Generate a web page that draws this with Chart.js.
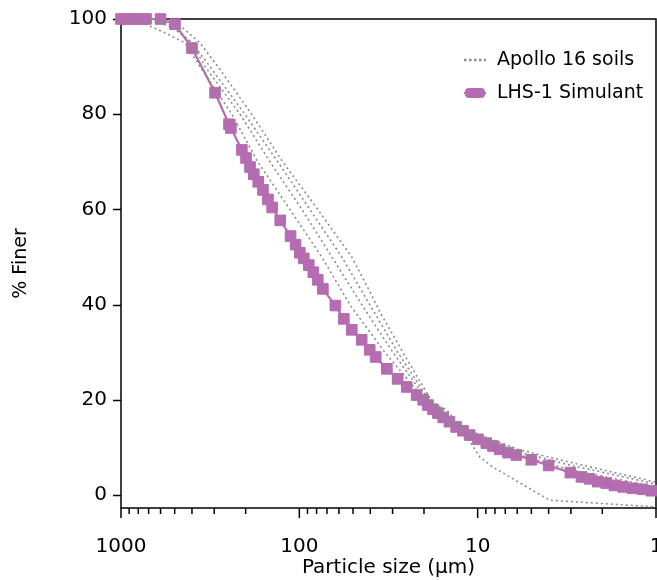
<!DOCTYPE html>
<html>
<head>
<meta charset="utf-8">
<script src="https://cdn.jsdelivr.net/npm/chart.js@4.4.0/dist/chart.umd.min.js"></script>
<style>
  html, body { margin: 0; padding: 0; background: #fff; }
  #wrap { width: 657px; height: 580px; }
</style>
</head>
<body>
<div id="wrap"><canvas id="psd"></canvas></div>
<script>
// particle size (µm) and % finer
const lhsSize = [1000, 926, 857, 793, 724, 600, 498, 400, 297, 248, 242, 210, 199, 189, 180, 170, 160, 150, 142,
  128, 112, 105, 99.4, 94.4, 88.5, 83.5, 78.8, 73.8, 62.8, 56.3, 50.8, 44.7, 40.3, 37.3, 32.3, 28.1, 25.0,
  22.0, 20.2, 19.0, 17.8, 16.7, 15.6, 14.4, 13.2, 12.1, 11.1, 9.96, 8.94, 8.21, 7.53, 6.77, 6.07, 5.00, 4.00, 3.02,
  2.62, 2.36, 2.12, 1.90, 1.71, 1.53, 1.35, 1.19, 1.06];
const lhsFiner = [100, 100, 100, 100, 100, 100, 98.9, 93.9, 84.5, 77.9, 77.1, 72.5, 70.8, 68.9, 67.4, 65.8, 64.1, 62.1, 60.4,
  57.7, 54.4, 52.6, 50.9, 49.7, 48.3, 46.8, 45.2, 43.3, 39.8, 37.0, 34.7, 32.6, 30.5, 29.0, 26.5, 24.4, 22.7,
  21.0, 20.0, 18.9, 18.0, 17.2, 16.3, 15.4, 14.3, 13.5, 12.6, 11.7, 10.9, 10.3, 9.6, 8.9, 8.4, 7.4, 6.2, 4.7,
  3.8, 3.4, 2.8, 2.5, 2.0, 1.7, 1.4, 1.2, 0.9];

const apolloASize = [1000, 783, 567, 438, 361, 239, 171, 113, 74.8, 52.1, 33.2, 19.8, 14.9, 11.5, 9.74, 8.24, 3.95, 1];
const apolloAFiner = [100, 99.4, 97.1, 95, 90, 80, 70, 60, 50, 40, 30, 20, 17.9, 12.2, 8.0, 5.9, -1.1, -2.5];
const apolloBSize = [688, 500, 400, 338, 215, 146, 96.8, 65.7, 44.7, 29.9, 19.3, 14.4, 10.1, 5.82, 3.05, 1];
const apolloBFiner = [100, 98, 95, 90, 80, 70, 60, 50, 40, 30, 20, 15, 11.6, 8.4, 5.3, 1.7];
const apolloCSize = [645, 552, 400, 317, 202, 132, 87.3, 57.8, 40.3, 28.1, 18.8, 14.4, 9.74, 5.82, 3.05, 1];
const apolloCFiner = [100, 99.2, 95, 90, 80, 70, 60, 50, 40, 30, 20, 15.5, 12, 9.0, 6.3, 2.3];
const apolloDSize = [567, 486, 361, 286, 185, 124, 78.8, 50.8, 39.3, 35.4, 26.3, 18.3, 14.4, 9.74, 5.82, 3.05, 1];
const apolloDFiner = [100, 99.2, 95, 90, 80, 70, 60, 50, 42, 38.5, 30, 20, 16, 12.6, 9.5, 6.9, 2.7];

const xLabels = [1, 10, 100, 1000];
const yTicks = [0, 20, 40, 60, 80, 100];

const purple = '#b56cb1';
const grey = '#8c8c8c';
const font = 'DejaVu Sans';

function pts(xs, ys) { return xs.map((x, i) => ({ x: x, y: ys[i] })); }

function apollo(xs, ys) {
  return {
    label: 'Apollo 16 soils',
    data: pts(xs, ys),
    showLine: true,
    borderColor: grey,
    borderWidth: 1.6,
    borderDash: [2, 3],
    pointRadius: 0,
    tension: 0
  };
}

// frame, tick marks and legend
const decor = {
  id: 'decor',
  beforeDatasetsDraw(chart) {
    const { ctx, chartArea: a, scales: { x, y } } = chart;
    ctx.save();
    ctx.strokeStyle = '#000';
    ctx.lineWidth = 1.5;
    ctx.strokeRect(a.left, a.top, a.right - a.left, a.bottom - a.top);
    ctx.beginPath();
    yTicks.forEach(v => {
      const py = Math.round(y.getPixelForValue(v)) + 0.5;
      ctx.moveTo(a.left - 8, py); ctx.lineTo(a.left, py);
    });
    [1, 10, 100].forEach(d => {
      for (let k = 1; k <= 9; k++) {
        const px = x.getPixelForValue(d * k);
        const len = k === 1 ? 10 : 6;
        ctx.moveTo(px, a.bottom); ctx.lineTo(px, a.bottom + len);
      }
    });
    const p1000 = x.getPixelForValue(1000);
    ctx.moveTo(p1000, a.bottom); ctx.lineTo(p1000, a.bottom + 10);
    ctx.stroke();

    // legend
    ctx.strokeStyle = grey;
    ctx.lineWidth = 2.5;
    ctx.setLineDash([2.5, 2.5]);
    ctx.beginPath(); ctx.moveTo(464, 60); ctx.lineTo(486, 60); ctx.stroke();
    ctx.setLineDash([]);
    ctx.strokeStyle = purple;
    ctx.lineWidth = 2;
    ctx.beginPath(); ctx.moveTo(464, 93); ctx.lineTo(486, 93); ctx.stroke();
    ctx.fillStyle = purple;
    ctx.beginPath();
    ctx.roundRect(465, 88, 20, 10, 4);
    ctx.fill();
    ctx.fillStyle = '#000';
    ctx.font = '19px "' + font + '"';
    ctx.textBaseline = 'middle';
    ctx.fillText('Apollo 16 soils', 497, 60);
    ctx.fillText('LHS-1 Simulant', 497, 93);
    ctx.restore();
  }
};

const ctx = document.getElementById('psd').getContext('2d');
new Chart(ctx, {
  type: 'scatter',
  data: {
    datasets: [
      apollo(apolloASize, apolloAFiner),
      apollo(apolloBSize, apolloBFiner),
      apollo(apolloCSize, apolloCFiner),
      apollo(apolloDSize, apolloDFiner),
      {
        label: 'LHS-1 Simulant',
        data: pts(lhsSize, lhsFiner),
        showLine: true,
        borderColor: purple,
        backgroundColor: purple,
        borderWidth: 2.2,
        pointStyle: 'rect',
        pointRadius: 7.5,
        pointBorderWidth: 1,
        pointBorderColor: purple,
        clip: false
      }
    ]
  },
  options: {
    responsive: true,
    maintainAspectRatio: false,
    animation: false,
    layout: { autoPadding: false, padding: { top: 19, right: 1, left: 0, bottom: 0 } },
    plugins: {
      legend: { display: false },
      tooltip: { enabled: false }
    },
    scales: {
      x: {
        type: 'logarithmic',
        reverse: true,
        min: 1,
        max: 1000,
        grid: { display: false, drawTicks: false },
        border: { display: false },
        afterBuildTicks: s => { s.ticks = xLabels.map(v => ({ value: v })); },
        afterFit: s => { s.height = 72; s.paddingLeft = 0; s.paddingRight = 0; },
        ticks: {
          color: '#000',
          font: { family: font, size: 20 },
          padding: 27,
          maxRotation: 0,
          autoSkip: false,
          callback: v => String(v)
        },
        title: {
          display: true,
          text: 'Particle size (μm)',
          color: '#000',
          font: { family: font, size: 20 },
          padding: { top: 0, bottom: 0 }
        }
      },
      y: {
        min: -2.73,
        max: 100,
        grid: { display: false, drawTicks: false },
        border: { display: false },
        afterBuildTicks: s => { s.ticks = yTicks.map(v => ({ value: v })); },
        afterFit: s => { s.width = 121; s.paddingTop = 0; s.paddingBottom = 0; },
        ticks: {
          color: '#000',
          font: { family: font, size: 20 },
          padding: 14
        },
        title: {
          display: true,
          text: '% Finer',
          color: '#000',
          font: { family: font, size: 19 },
          padding: { top: 10, bottom: 8 }
        }
      }
    }
  },
  plugins: [decor]
});
</script>
</body>
</html>
